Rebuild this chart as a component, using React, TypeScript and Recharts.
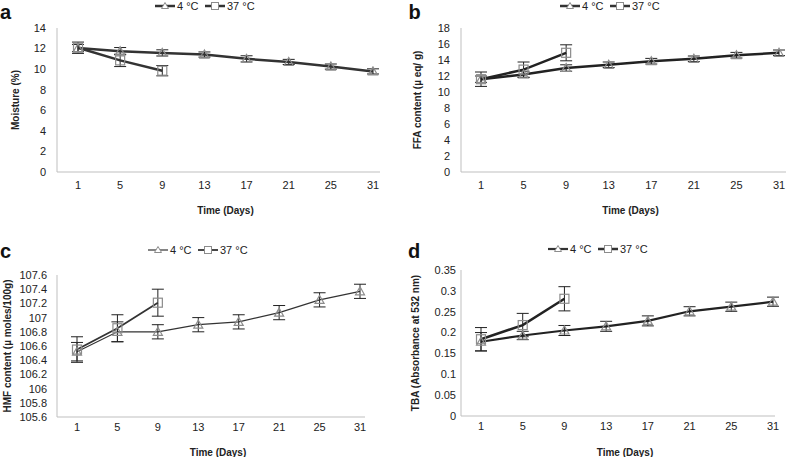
import React from 'react';
import { LineChart, Line, XAxis, YAxis, ErrorBar, Label } from 'recharts';

// storage days (categorical x axis)
const days = ['1', '5', '9', '13', '17', '21', '25', '31'];

// a - moisture (%)
const moisture4 = [12.05, 11.75, 11.58, 11.42, 11.0, 10.7, 10.25, 9.78];
const moisture4Err = [0.35, 0.35, 0.3, 0.25, 0.3, 0.25, 0.25, 0.25];
const moisture37 = [12.08, 10.85, 9.85];
const moisture37Err = [0.55, 0.6, 0.5];
const moistureTicks = [0, 2, 4, 6, 8, 10, 12, 14];

// b - FFA content
const ffa4 = [11.6, 12.2, 13.0, 13.4, 13.85, 14.15, 14.6, 14.9];
const ffa4Err = [0.4, 0.4, 0.4, 0.35, 0.35, 0.35, 0.35, 0.35];
const ffa37 = [11.6, 12.8, 14.9];
const ffa37Err = [0.9, 0.95, 1.0];
const ffaTicks = [0, 2, 4, 6, 8, 10, 12, 14, 16, 18];

// c - HMF content
const hmf4 = [106.52, 106.8, 106.8, 106.9, 106.94, 107.07, 107.25, 107.37];
const hmf4Err = [0.13, 0.14, 0.1, 0.1, 0.1, 0.1, 0.1, 0.1];
const hmf37 = [106.55, 106.85, 107.21];
const hmf37Err = [0.18, 0.19, 0.19];
const hmfTicks = [105.6, 105.8, 106, 106.2, 106.4, 106.6, 106.8, 107, 107.2, 107.4, 107.6];

// d - TBA
const tba4 = [0.178, 0.193, 0.205, 0.215, 0.228, 0.251, 0.262, 0.274];
const tba4Err = [0.022, 0.01, 0.012, 0.012, 0.012, 0.011, 0.011, 0.011];
const tba37 = [0.184, 0.218, 0.281];
const tba37Err = [0.028, 0.028, 0.029];
const tbaTicks = [0, 0.05, 0.1, 0.15, 0.2, 0.25, 0.3, 0.35];

const FONT = '"Liberation Sans", Arial, sans-serif';
const AXIS_GREY = '#bfbfbf';
const MARKER_GREY = '#8c8c8c';

function buildRows(v4: number[], e4: number[], v37: number[], e37: number[]) {
  return days.map((day, i) => {
    const row: any = { day, c4: v4[i], e4: e4[i] };
    if (i < v37.length) {
      row.c37 = v37[i];
      row.e37 = e37[i];
    }
    return row;
  });
}

const triangleDot = (props: any) => {
  const { cx, cy, key } = props;
  if (cx == null || cy == null) return <g key={key} />;
  return (
    <polygon
      key={key}
      points={`${cx},${cy - 4.5} ${cx - 4.5},${cy + 3.5} ${cx + 4.5},${cy + 3.5}`}
      fill="none"
      stroke={MARKER_GREY}
      strokeWidth={1.2}
    />
  );
};

const squareDot = (props: any) => {
  const { cx, cy, key } = props;
  if (cx == null || cy == null) return <g key={key} />;
  return (
    <rect key={key} x={cx - 4.5} y={cy - 4.5} width={9} height={9} fill="none" stroke={MARKER_GREY} strokeWidth={1.2} />
  );
};

const Legend = ({ cx, cy, w4, w37 }: { cx: number; cy: number; w4: number; w37: number }) => {
  const x0 = cx - 50;
  return (
    <g fontFamily={FONT} fontSize={11} fill="#222">
      <line x1={x0} y1={cy} x2={x0 + 20} y2={cy} stroke="#333" strokeWidth={w4} />
      <polygon points={`${x0 + 10},${cy - 3.5} ${x0 + 6.5},${cy + 2.5} ${x0 + 13.5},${cy + 2.5}`} fill="#fff" stroke={MARKER_GREY} />
      <text x={x0 + 22} y={cy} dominantBaseline="central">4 °C</text>
      <line x1={x0 + 50} y1={cy} x2={x0 + 70} y2={cy} stroke="#333" strokeWidth={w37} />
      <rect x={x0 + 56.5} y={cy - 3.5} width={7} height={7} fill="#fff" stroke={MARKER_GREY} />
      <text x={x0 + 72} y={cy} dominantBaseline="central">37 °C</text>
    </g>
  );
};

interface PanelProps {
  rows: any[];
  ticks: number[];
  fmt: (v: number) => string;
  yLabel: string;
  left: number;
  top: number;
  width: number;
  height: number;
  margin: { top: number; right: number; left: number; bottom: number };
  yWidth: number;
  xHeight: number;
  pad: { left: number; right: number };
  yTickMargin: number;
  xTickMargin: number;
  yLabelX: number;
  xLabelDy: number;
  w4: number;
  w37: number;
  lineColor: string;
}

const Panel = (p: PanelProps) => {
  const yLabelContent = (props: any) => {
    const vb = props.viewBox;
    const cy = vb.y + vb.height / 2;
    return (
      <text
        x={p.yLabelX}
        y={cy}
        transform={`rotate(-90 ${p.yLabelX} ${cy})`}
        textAnchor="middle"
        dominantBaseline="central"
        fontFamily={FONT}
        fontWeight="bold"
        fontSize={10}
        fill="#222"
      >
        {p.yLabel}
      </text>
    );
  };
  const xLabelContent = (props: any) => {
    const vb = props.viewBox;
    return (
      <text
        x={vb.x + vb.width / 2 + 7}
        y={vb.y + p.xLabelDy}
        textAnchor="middle"
        dominantBaseline="central"
        fontFamily={FONT}
        fontWeight="bold"
        fontSize={10}
        fill="#222"
      >
        Time (Days)
      </text>
    );
  };
  const lo = p.ticks[0];
  const hi = p.ticks[p.ticks.length - 1];
  return (
    <div style={{ position: 'absolute', left: p.left, top: p.top }}>
      <LineChart width={p.width} height={p.height} data={p.rows} margin={p.margin}>
        <XAxis
          dataKey="day"
          scale="point"
          padding={p.pad}
          height={p.xHeight}
          tickLine={false}
          tickSize={0}
          tickMargin={p.xTickMargin}
          axisLine={{ stroke: AXIS_GREY }}
          tick={{ fontSize: 11, fontFamily: FONT, fill: '#222' }}
          interval={0}
        >
          <Label content={xLabelContent} />
        </XAxis>
        <YAxis
          type="number"
          domain={[lo, hi]}
          ticks={p.ticks}
          tickFormatter={p.fmt}
          width={p.yWidth}
          tickLine={false}
          tickSize={0}
          tickMargin={p.yTickMargin}
          axisLine={{ stroke: AXIS_GREY }}
          tick={{ fontSize: 11, fontFamily: FONT, fill: '#222' }}
          interval={0}
          allowDataOverflow
        >
          <Label content={yLabelContent} />
        </YAxis>
        <Line
          dataKey="c4"
          stroke={p.lineColor}
          strokeWidth={p.w4}
          dot={triangleDot}
          isAnimationActive={false}
        >
          <ErrorBar dataKey="e4" width={6} stroke="#222" strokeWidth={1} direction="y" isAnimationActive={false} />
        </Line>
        <Line
          dataKey="c37"
          stroke={p.lineColor}
          strokeWidth={p.w37}
          dot={squareDot}
          isAnimationActive={false}
        >
          <ErrorBar dataKey="e37" width={6} stroke="#222" strokeWidth={1} direction="y" isAnimationActive={false} />
        </Line>
      </LineChart>
    </div>
  );
};

const fmt0 = (v: number) => String(Number(v.toFixed(0)));
const fmt1 = (v: number) => String(Number(v.toFixed(1)));
const fmt2 = (v: number) => String(Number(v.toFixed(2)));

export default function App() {
  return (
    <div style={{ position: 'absolute', left: 0, top: 0, width: 787, height: 457, background: '#fff', overflow: 'hidden' }}>
      <Panel
        rows={buildRows(moisture4, moisture4Err, moisture37, moisture37Err)}
        ticks={moistureTicks}
        fmt={fmt0}
        yLabel="Moisture (%)"
        left={0}
        top={0}
        width={393}
        height={225}
        margin={{ top: 28, right: 13, left: 0, bottom: 3 }}
        yWidth={57}
        xHeight={50}
        pad={{ left: 21, right: 7 }}
        yTickMargin={11}
        xTickMargin={9}
        yLabelX={15}
        xLabelDy={38}
        w4={2.5}
        w37={2.5}
        lineColor="#333"
      />
      <Panel
        rows={buildRows(ffa4, ffa4Err, ffa37, ffa37Err)}
        ticks={ffaTicks}
        fmt={fmt0}
        yLabel="FFA content (µ eq/ g)"
        left={395}
        top={0}
        width={392}
        height={225}
        margin={{ top: 28, right: 1, left: 0, bottom: 3 }}
        yWidth={66}
        xHeight={50}
        pad={{ left: 20, right: 7 }}
        yTickMargin={11}
        xTickMargin={9}
        yLabelX={22}
        xLabelDy={38}
        w4={2.5}
        w37={2.5}
        lineColor="#222"
      />
      <Panel
        rows={buildRows(hmf4, hmf4Err, hmf37, hmf37Err)}
        ticks={hmfTicks}
        fmt={fmt1}
        yLabel="HMF content (µ moles/100g)"
        left={0}
        top={225}
        width={393}
        height={232}
        margin={{ top: 50, right: 28, left: 0, bottom: 0 }}
        yWidth={57}
        xHeight={40}
        pad={{ left: 20, right: 5 }}
        yTickMargin={10}
        xTickMargin={6}
        yLabelX={7}
        xLabelDy={35}
        w4={1.2}
        w37={1.8}
        lineColor="#333"
      />
      <Panel
        rows={buildRows(tba4, tba4Err, tba37, tba37Err)}
        ticks={tbaTicks}
        fmt={fmt2}
        yLabel="TBA (Absorbance at 532 nm)"
        left={395}
        top={225}
        width={392}
        height={232}
        margin={{ top: 45, right: 12, left: 0, bottom: 0 }}
        yWidth={66}
        xHeight={41}
        pad={{ left: 20, right: 2 }}
        yTickMargin={5}
        xTickMargin={6}
        yLabelX={20}
        xLabelDy={36}
        w4={2.2}
        w37={2.5}
        lineColor="#222"
      />
      <svg width={787} height={457} style={{ position: 'absolute', left: 0, top: 0, pointerEvents: 'none' }}>
        <g fontFamily={FONT} fontWeight="bold" fontSize={20} fill="#111">
          <text x={0} y={18.5}>a</text>
          <text x={408.5} y={18.5}>b</text>
          <text x={0} y={258}>c</text>
          <text x={408} y={258}>d</text>
        </g>
        <Legend cx={205} cy={6} w4={2.5} w37={2.5} />
        <Legend cx={610} cy={6} w4={2.5} w37={2.5} />
        <Legend cx={198} cy={250} w4={1.2} w37={1.8} />
        <Legend cx={598} cy={249} w4={2.2} w37={2.5} />
      </svg>
    </div>
  );
}
